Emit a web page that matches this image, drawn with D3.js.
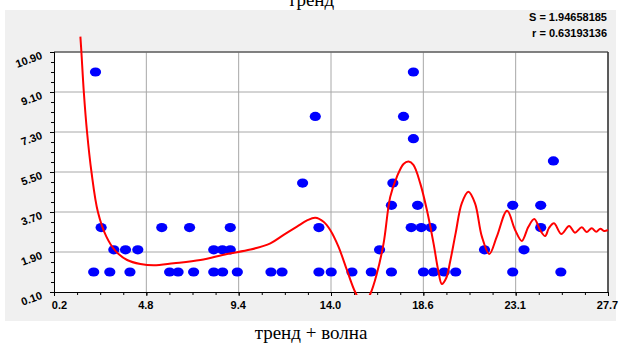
<!DOCTYPE html>
<html>
<head>
<meta charset="utf-8">
<script src="https://cdn.jsdelivr.net/npm/d3@7"></script>
<style>
  html, body { margin: 0; padding: 0; background: #fff; }
  svg { display: block; }
</style>
</head>
<body>
<svg id="chart" width="620" height="345"></svg>
<script>
// Observations
const pointX = [2.17, 2.26, 2.54, 2.97, 3.17, 3.75, 3.97, 4.36, 5.55, 5.94, 6.36, 6.93, 7.13, 8.13, 8.13, 8.56, 8.57, 8.95, 8.95, 9.30,
                10.97, 11.52, 12.54, 13.17, 13.35, 13.35, 13.96, 14.99, 15.95, 16.36, 16.95, 16.95, 17.02, 17.55, 17.93, 18.04, 18.04,
                18.25, 18.43, 18.54, 18.92, 19.04, 19.57, 20.14, 21.57, 22.97, 22.97, 23.53, 24.36, 24.36, 24.99, 25.36];
const pointY = [1, 10, 3, 1, 2, 2, 1, 2, 3, 1, 1, 3, 1, 2, 1, 2, 1, 3, 2, 1,
                1, 1, 5, 8, 3, 1, 1, 1, 1, 2, 4, 1, 5, 8, 3, 10, 7,
                4, 3, 1, 3, 1, 1, 1, 2, 4, 1, 2, 4, 3, 6, 1];

// Fitted trend + wave curve
const fitX = [1.51, 1.56, 1.68, 1.84, 2.06, 2.38, 2.80, 3.25, 3.83, 4.49, 5.15, 6.14, 7.47, 8.79, 9.95, 10.94, 11.60, 12.26, 12.76, 13.17,
              13.58, 13.91, 14.32, 14.74, 15.15, 15.55, 15.90, 16.23, 16.56, 16.89, 17.22, 17.55, 17.80, 18.04, 18.38, 18.71, 19.04,
              19.27, 19.45, 19.67, 19.86, 20.14, 20.44, 20.77, 21.10, 21.44, 21.81, 22.18, 22.69, 23.09, 23.42, 23.75, 24.04, 24.33,
              24.58, 24.77, 25.02, 25.38, 25.77, 26.06, 26.40, 26.64, 26.89, 27.12, 27.32, 27.50, 27.70];
const fitY = [11.59, 10.90, 9.10, 7.30, 5.50, 3.70, 2.59, 1.95, 1.54, 1.36, 1.30, 1.39, 1.54, 1.81, 2.01, 2.29, 2.67, 3.04, 3.32, 3.44,
              3.26, 2.89, 2.14, 1.09, 0.10, -0.49, 0.01, 0.94, 2.29, 4.38, 5.28, 5.86, 5.97, 5.82, 4.99, 3.79, 2.29,
              1.09, 0.46, 0.73, 1.45, 2.76, 4.09, 4.61, 4.09, 2.59, 1.81, 2.59, 3.76, 2.89, 2.40, 3.04, 3.38, 2.89,
              2.62, 2.98, 3.19, 2.71, 3.07, 2.77, 3.01, 2.80, 2.97, 2.81, 2.95, 2.85, 2.89];

const xTickLabels = ["0.2", "4.8", "9.4", "14.0", "18.6", "23.1", "27.7"];
const yTickLabels = ["0.10", "1.90", "3.70", "5.50", "7.30", "9.10", "10.90"];
const statLines = ["S = 1.94658185", "r = 0.63193136"];
const chartTitle = "тренд";
const axisTitle = "тренд + волна";

const W = 620, H = 345;
const plot = { left: 54, right: 608, top: 52, bottom: 292 };
const svg = d3.select("#chart");

const x = d3.scaleLinear().domain([0.2, 27.7]).range([plot.left, plot.right]);
const y = d3.scaleLinear().domain([0.1, 10.9]).range([plot.bottom, plot.top]);

const [x0, x1] = x.domain();
const xTicks = xTickLabels.map((_, i) => x0 + i * (x1 - x0) / (xTickLabels.length - 1));
const yTicks = yTickLabels.map(Number);
const xMinor = d3.range(0, (xTicks.length - 1) * 4 + 1).map(i => x0 + i * (x1 - x0) / ((xTicks.length - 1) * 4));
const yMinor = d3.range(0, (yTicks.length - 1) * 4 + 1).map(i => yTicks[0] + i * (yTicks[1] - yTicks[0]) / 4);

// background panel
svg.append("rect").attr("x", 0).attr("y", 0).attr("width", W).attr("height", H).attr("fill", "#fff");
svg.append("rect").attr("x", 5).attr("y", 10).attr("width", 611).attr("height", 311).attr("fill", "#f0f0f0");
svg.append("rect")
  .attr("x", plot.left).attr("y", plot.top)
  .attr("width", plot.right - plot.left).attr("height", plot.bottom - plot.top)
  .attr("fill", "#fff");

// grid
const grid = svg.append("g").attr("stroke", "#a8a8a8").attr("stroke-width", 1);
grid.selectAll("line.h").data(yTicks.slice(1)).join("line")
  .attr("x1", plot.left).attr("x2", plot.right)
  .attr("y1", d => y(d)).attr("y2", d => y(d));
grid.selectAll("line.v").data(xTicks.slice(1)).join("line")
  .attr("y1", plot.top).attr("y2", plot.bottom)
  .attr("x1", d => x(d)).attr("x2", d => x(d));

// frame (top and right)
svg.append("line").attr("x1", plot.left).attr("x2", plot.right).attr("y1", plot.top).attr("y2", plot.top)
  .attr("stroke", "#666").attr("stroke-width", 1.5);
svg.append("line").attr("x1", plot.right).attr("x2", plot.right).attr("y1", plot.top).attr("y2", plot.bottom)
  .attr("stroke", "#333").attr("stroke-width", 1.5);

// axes
const fontTick = "bold 11px 'Liberation Sans', Arial, sans-serif";
const gx = svg.append("g").attr("transform", `translate(0,${plot.bottom})`);
gx.append("g").call(d3.axisBottom(x).tickValues(xMinor).tickSize(3).tickFormat(""));
gx.append("g").call(d3.axisBottom(x).tickValues(xTicks).tickSize(4).tickFormat((d, i) => xTickLabels[i]))
  .call(g => g.selectAll("text")
    .attr("y", 17).attr("dy", null)
    .attr("dx", (d, i) => i === 0 ? 5 : -1)
    .style("font", fontTick).attr("fill", "#000"));

const gy = svg.append("g").attr("transform", `translate(${plot.left},0)`);
gy.append("g").call(d3.axisLeft(y).tickValues(yMinor).tickSize(3).tickFormat(""));
gy.append("g").call(d3.axisLeft(y).tickValues(yTicks).tickSize(4).tickFormat((d, i) => yTickLabels[i]))
  .call(g => g.selectAll("text")
    .attr("x", 0).attr("y", 0).attr("dy", null)
    .attr("transform", "translate(-11,6) rotate(-20)")
    .attr("text-anchor", "end")
    .style("font", fontTick).attr("fill", "#000"));
svg.selectAll(".domain, .tick line").attr("stroke", "#000");

// points
svg.append("g").selectAll("ellipse").data(pointX.map((d, i) => [d, pointY[i]])).join("ellipse")
  .attr("cx", d => x(d[0])).attr("cy", d => y(d[1]))
  .attr("rx", 5.6).attr("ry", 4.6)
  .attr("fill", "#0000ff");

// fitted curve
svg.append("clipPath").attr("id", "curveClip")
  .append("rect").attr("x", 0).attr("y", 0).attr("width", W).attr("height", plot.bottom + 3);
const line = d3.line().x(d => x(d[0])).y(d => y(d[1])).curve(d3.curveCatmullRom.alpha(0.5));
svg.append("path")
  .datum(fitX.map((d, i) => [d, fitY[i]]))
  .attr("clip-path", "url(#curveClip)")
  .attr("d", line)
  .attr("fill", "none").attr("stroke", "#ff0000").attr("stroke-width", 2);

// statistics
svg.append("g").selectAll("text").data(statLines).join("text")
  .attr("x", 607).attr("y", (d, i) => 21 + i * 16)
  .attr("text-anchor", "end")
  .style("font", "bold 11px 'Liberation Sans', Arial, sans-serif")
  .attr("fill", "#000")
  .text(d => d);

// titles
svg.append("text").attr("x", 311).attr("y", 6).attr("text-anchor", "middle")
  .style("font", "19px 'Liberation Serif', 'Times New Roman', serif").attr("fill", "#000")
  .text(chartTitle);
svg.append("text").attr("x", 311).attr("y", 339).attr("text-anchor", "middle")
  .style("font", "19px 'Liberation Serif', 'Times New Roman', serif").attr("fill", "#000")
  .text(axisTitle);
</script>
</body>
</html>
